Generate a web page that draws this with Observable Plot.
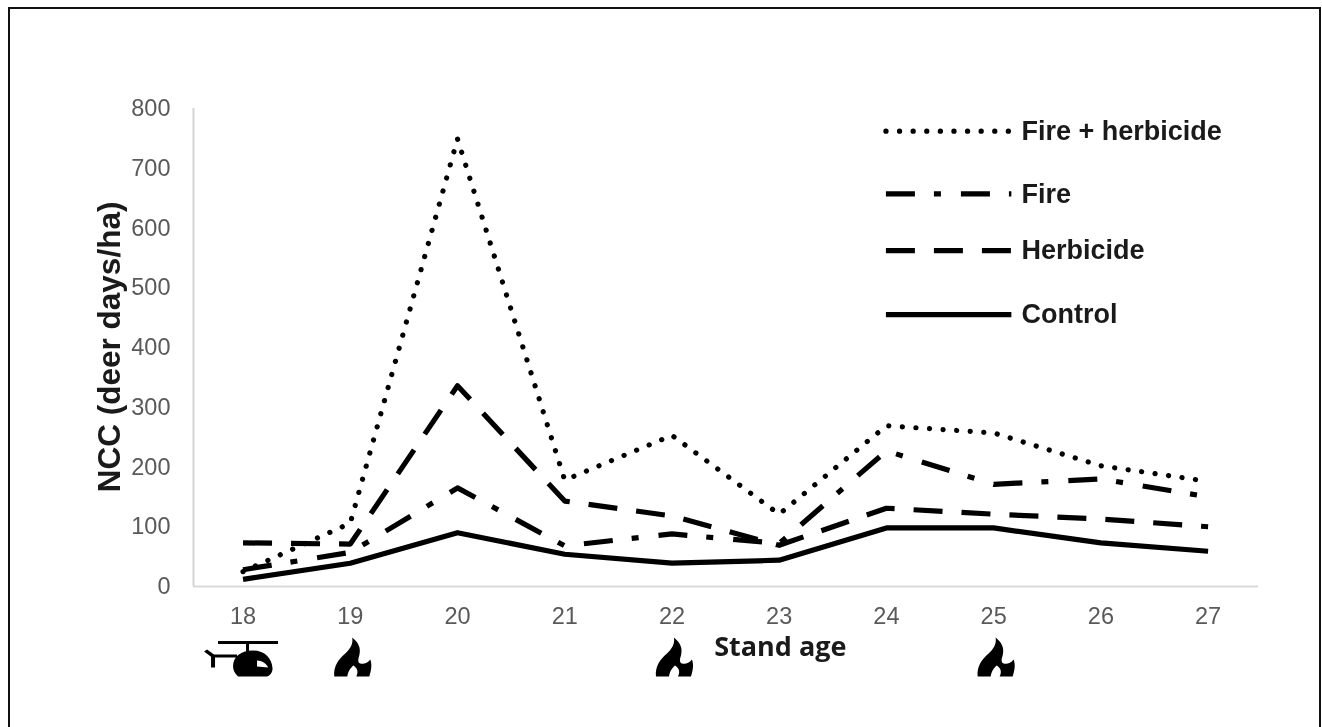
<!DOCTYPE html>
<html>
<head>
<meta charset="utf-8">
<script src="https://cdn.jsdelivr.net/npm/d3@7"></script>
<script src="https://cdn.jsdelivr.net/npm/@observablehq/plot@0.6"></script>
<style>
  html, body { margin: 0; padding: 0; background: #fff; width: 1322px; height: 727px; overflow: hidden; }
  #chart { position: absolute; left: 0; top: 0; filter: blur(0.7px); }
  .edge { position: absolute; background: #111; }
</style>
</head>
<body>
<div id="chart"></div>
<div class="edge" style="left:8px;top:7px;width:1313px;height:2px"></div>
<div class="edge" style="left:8px;top:7px;width:2px;height:720px"></div>
<div class="edge" style="left:1319px;top:7px;width:2px;height:720px"></div>
<script>
const ages = [18, 19, 20, 21, 22, 23, 24, 25, 26, 27];
const fireHerbicide = [25, 106, 749, 178, 253, 121, 269, 257, 202, 176];
const fire = [28, 57, 165, 68, 88, 72, 227, 171, 180, 150];
const herbicide = [73, 71, 336, 143, 118, 69, 131, 121, 113, 100];
const control = [12, 39, 90, 54, 39, 44, 98, 98, 73, 59];

const seriesNames = ["Fire + herbicide", "Fire", "Herbicide", "Control"];
const seriesValues = [fireHerbicide, fire, herbicide, control];
const seriesDash = ["0.1 13.5", "29 19 7 20", "29 19", "none"];
const seriesCap = ["round", "butt", "butt", "butt"];
const seriesWidth = [5.2, 5.2, 5.2, 5.2];
const legendLevels = [762, 657, 562, 455];

const yTicks = [0, 100, 200, 300, 400, 500, 600, 700, 800];
const helicopterAges = [18];
const fireAges = [19, 22, 25];
const flameLevel = -117;
const helicopterLevel = -97;
const xTitle = "Stand age";
const yTitle = "NCC (deer days/ha)";

const flame = {
  draw(c, size) {
    const k = Math.sqrt(size / Math.PI) / 20;
    const m = (x, y) => c.moveTo(x * k, y * k);
    const b = (a, d, e, f, g, h) => c.bezierCurveTo(a * k, d * k, e * k, f * k, g * k, h * k);
    const l = (x, y) => c.lineTo(x * k, y * k);
    m(-1, -19);
    b(5, -14, 8, -9, 6, -1);
    b(5, 2, 4, 6, 7, 7);
    b(10, 8, 14, 7, 17, 3);
    b(19, 8, 18, 14, 16, 20);
    l(3, 20);
    b(6, 14, 3, 11, 0, 9);
    b(-3, 12, -5, 14, -6, 20);
    l(-19, 20);
    b(-20, 10, -15, 3, -8, -3);
    b(-3, -8, 0, -12, -1, -19);
    c.closePath();
  }
};

const helicopter = {
  draw(c, size) {
    const k = Math.sqrt(size / Math.PI) / 38;
    const l = (x, y) => c.lineTo(x * k, y * k);
    const m = (x, y) => c.moveTo(x * k, y * k);
    const b = (a, d, e, f, g, h) => c.bezierCurveTo(a * k, d * k, e * k, f * k, g * k, h * k);
    const rect = (x, y, w, h) => {
      m(x, y); l(x + w, y); l(x + w, y + h); l(x, y + h); c.closePath();
    };
    rect(-25, -3.5, 60, 3);    // rotor
    rect(3, -2, 3, 10);        // mast
    rect(-32, 10, 26, 3);      // boom
    rect(-32, 11, 4, 12);      // tail fin
    m(-39, 7); l(-36, 5); l(-29, 10); l(-31, 13); c.closePath();
    // body, cut flat at the bottom, with a window cut out
    m(-10, 22);
    b(-10, 12, -2, 6, 10, 6);
    b(22, 6, 29, 14, 29.5, 24);
    b(29.5, 28, 27, 31, 24, 32);
    l(-5, 32);
    b(-8, 29, -10, 26, -10, 22);
    c.closePath();
    m(14, 16);
    l(14, 22);
    l(25, 23);
    b(24, 20, 20, 16, 14, 16);
    c.closePath();
  }
};

const rows = (i) => ages.map((age, j) => ({ age, value: seriesValues[i][j] }));

const seriesMarks = seriesNames.map((name, i) =>
  Plot.line(rows(i), {
    x: "age", y: "value", stroke: "#000",
    strokeWidth: seriesWidth[i],
    strokeDasharray: seriesDash[i],
    strokeLinecap: seriesCap[i],
    strokeLinejoin: "round"
  })
);

const legendMarks = seriesNames.flatMap((name, i) => [
  Plot.ruleY([legendLevels[i]], {
    x1: 24.0, x2: 25.17, stroke: "#000",
    strokeWidth: seriesWidth[i],
    strokeDasharray: seriesDash[i],
    strokeLinecap: seriesCap[i]
  }),
  Plot.text([name], {
    x: 25.26, y: legendLevels[i], text: d => d,
    textAnchor: "start", fontSize: 27, fontWeight: 700,
    fontFamily: "Liberation Sans", fill: "#1a1a1a"
  })
]);

const chart = Plot.plot({
  width: 1322, height: 727,
  marginLeft: 193, marginRight: 64, marginTop: 108, marginBottom: 141,
  style: { background: "#fff", overflow: "visible" },
  x: { domain: [17.538, 27.47] },
  y: { domain: [0, 800] },
  marks: [
    Plot.ruleX([17.538], { stroke: "#d4d4d4", strokeWidth: 2 }),
    Plot.ruleY([0], { stroke: "#d9d9d9", strokeWidth: 2 }),
    Plot.axisY({
      ticks: yTicks, tickSize: 0, tickPadding: 23, label: null,
      fontSize: 23.5, fontFamily: "Liberation Sans", color: "#595959", fill: "#595959"
    }),
    Plot.axisX({
      ticks: ages, tickSize: 0, tickPadding: 21, label: null, tickFormat: d => String(d),
      fontSize: 23.5, fontFamily: "Liberation Sans", color: "#595959", fill: "#595959"
    }),
    ...seriesMarks,
    ...legendMarks,
    Plot.text([xTitle], {
      x: 23.01, y: -102, text: d => d, fontSize: 27, fontWeight: 700,
      fontFamily: "Open Sans", fill: "#1a1a1a"
    }),
    Plot.text([yTitle], {
      x: 16.76, y: 401, text: d => d, rotate: -90, fontSize: 31.5, fontWeight: 700,
      fontFamily: "Liberation Sans", fill: "#1a1a1a"
    }),
    Plot.dot(fireAges, {
      x: d => d, y: () => flameLevel, r: 20, dx: 3, symbol: flame, fill: "#000", stroke: "none"
    }),
    Plot.dot(helicopterAges, {
      x: d => d, y: () => helicopterLevel, r: 38, symbol: helicopter, fill: "#000", stroke: "none"
    })
  ]
});
document.getElementById("chart").append(chart);
</script>
</body>
</html>
